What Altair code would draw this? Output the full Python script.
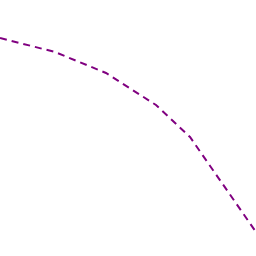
import altair as alt
import pandas as pd

xs = [0, 55, 106, 156, 190, 256]
ys = [218, 204, 183, 151, 119, 24]

df = pd.DataFrame({"x": xs, "y": ys})

chart = alt.Chart(df).mark_line(
    color="#800080", strokeDash=[7, 5], strokeWidth=2, clip=True
).encode(
    x=alt.X("x:Q", scale=alt.Scale(domain=[0, 256], nice=False, zero=False), axis=None),
    y=alt.Y("y:Q", scale=alt.Scale(domain=[0, 256], nice=False, zero=False), axis=None),
).properties(width=256, height=256, padding=0, autosize=alt.AutoSizeParams(type="none")
).configure_view(stroke=None)

chart.save("out.html", embed_options={"renderer": "svg", "actions": False})
